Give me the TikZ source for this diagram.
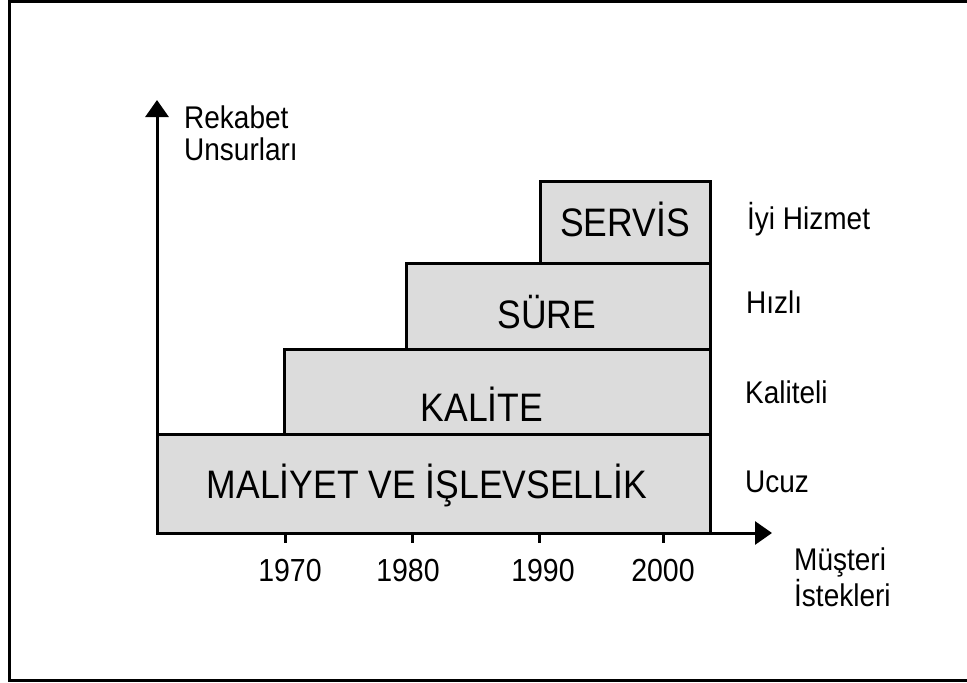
\documentclass[tikz,border=0pt]{standalone}
\usepackage{fontspec}
\usepackage{graphicx}
\setmainfont{Liberation Sans}
\usetikzlibrary{arrows.meta}
\definecolor{boxgray}{RGB}{220,220,220}
\newcommand{\vstretch}[1]{\scalebox{1}[1.12]{#1}}
\begin{document}
\begin{tikzpicture}[x=1pt,y=-1pt,
  frame/.style={line width=3pt},
  axis/.style={line width=3pt,-{Triangle[length=17pt,width=23pt]}},
  stepbox/.style={draw,line width=3pt,fill=boxgray,anchor=north west,inner sep=0pt,outer sep=0pt},
  boxlabel/.style={font=\fontsize{35.5}{40}\selectfont,inner sep=0pt},
  sidelabel/.style={font=\fontsize{28}{29}\selectfont,anchor=west,inner sep=0pt},
  ticklabel/.style={font=\fontsize{28.5}{32}\selectfont,inner sep=0pt},
  tickmark/.style={line width=3pt}]
\useasboundingbox (0,0) rectangle (967,683);
\fill[white] (0,0) rectangle (967,683);
% outer frame (right side lies beyond the page)
\draw[frame] (975,1.5) -- (9.5,1.5) -- (9.5,680.5) -- (975,680.5);
% boxes
\node[stepbox,minimum width=553pt,minimum height=99pt] (maliyet) at (157,434) {};
\node[stepbox,minimum width=426pt,minimum height=85pt] (kalite) at (284,349) {};
\node[stepbox,minimum width=304pt,minimum height=86pt] (sure) at (406,263) {};
\node[stepbox,minimum width=170pt,minimum height=82pt] (servis) at (540,181) {};
% box labels
\node[boxlabel] (tmaliyet) at (427,485) {\vstretch{MALİYET VE İŞLEVSELLİK}};
\node[boxlabel] (tkalite) at (482,404) {\vstretch{KALİTE}};
\node[boxlabel] (tsure) at (547,312) {\vstretch{SÜRE}};
\node[boxlabel] (tservis) at (625,219) {\vstretch{SERVİS}};
% axes
\coordinate (O) at (157,533);
\coordinate (ytip) at (157,100);
\coordinate (xtip) at (772,533);
\draw[axis] (O) -- (ytip);
\draw[axis] (O) -- (xtip);
% ticks
\foreach \x/\n in {285/a,412/b,539/c,663/d}{
  \coordinate (t\n) at (\x,533);
  \coordinate (u\n) at (\x,543);
  \draw[tickmark] (t\n) -- (u\n);
}
\node[ticklabel] (y1970) at (290,571) {\vstretch{1970}};
\node[ticklabel] (y1980) at (408,571) {\vstretch{1980}};
\node[ticklabel] (y1990) at (543,571) {\vstretch{1990}};
\node[ticklabel] (y2000) at (663,571) {\vstretch{2000}};
% side labels
\node[sidelabel] (iyi) at (747,219) {\vstretch{İyi Hizmet}};
\node[sidelabel] (hizli) at (746,302) {\vstretch{Hızlı}};
\node[sidelabel] (kaliteli) at (745,392) {\vstretch{Kaliteli}};
\node[sidelabel] (ucuz) at (745,482) {\vstretch{Ucuz}};
% axis titles
\node[sidelabel] (rek) at (184,138) {\vstretch{\begin{tabular}{@{}l@{}}Rekabet\\Unsurları\end{tabular}}};
\node[sidelabel] (mus) at (794,582) {\vstretch{\begin{tabular}{@{}l@{}}Müşteri\\İstekleri\end{tabular}}};
\end{tikzpicture}
\end{document}
